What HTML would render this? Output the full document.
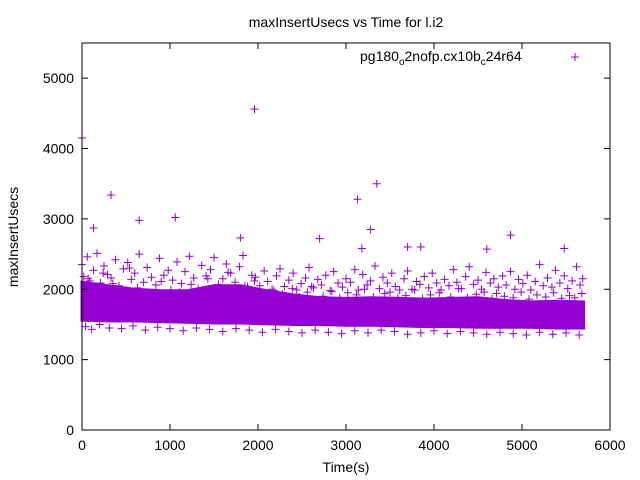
<!DOCTYPE html>
<html><head><meta charset="utf-8"><style>
body{margin:0;background:#fff;}
svg{display:block;font-family:"Liberation Sans",sans-serif;}
</style></head><body>
<svg id="chart" width="640" height="480">
<rect width="640" height="480" fill="#fff"/>
<text x="346" y="27" text-anchor="middle" font-size="14">maxInsertUsecs vs Time for l.i2</text>
<g id="marks"></g>
<rect x="82" y="43" width="528" height="387" fill="none" stroke="#000" stroke-width="1"/>
<g id="axes"></g>
<text x="346" y="472" text-anchor="middle" font-size="14">Time(s)</text>
<text transform="translate(18,237) rotate(-90)" text-anchor="middle" font-size="14">maxInsertUsecs</text>
<g>
<text x="360" y="61" font-size="14">pg180<tspan font-size="10" dy="4">o</tspan><tspan dy="-4">2nofp.cx10b</tspan><tspan font-size="10" dy="4">c</tspan><tspan dy="-4">24r64</tspan></text>
<path d="M571 57h8M575 53v8" stroke="#9400d3" stroke-width="1"/>
</g>
</svg>
<script>
const xTicks=[0,1000,2000,3000,4000,5000,6000];
const yTicks=[0,1000,2000,3000,4000,5000];
const bandTimes=[0,300,600,900,1200,1500,1800,2100,2400,2700,3000,3300,3600,3900,4200,4500,4800,5100,5400,5700];
const bandLow=[1560,1550,1550,1540,1530,1520,1520,1510,1500,1500,1490,1490,1480,1470,1470,1460,1460,1460,1450,1450];
const bandHigh=[2100,2050,2000,1980,1980,2050,2050,1980,1920,1880,1870,1880,1870,1860,1870,1880,1840,1820,1830,1820];
const scatterT=[0,20,60,90,130,170,210,250,290,330,380,420,470,520,560,600,650,700,740,790,840,880,930,980,1030,1080,1130,1170,1220,1270,1320,1360,1410,1460,1500,1550,1600,1640,1690,1740,1790,1830,1880,1930,1970,2020,2070,2110,2160,2210,2250,2300,2350,2400,2440,2490,2540,2580,2630,2680,2720,2770,2820,2860,2910,2960,3000,3050,3100,3140,3190,3240,3280,3330,3380,3420,3470,3520,3560,3610,3660,3700,3750,3800,3840,3890,3940,3980,4030,4080,4120,4170,4220,4260,4310,4360,4400,4450,4500,4540,4590,4640,4680,4730,4780,4820,4870,4920,4960,5010,5060,5100,5150,5200,5240,5290,5340,5380,5430,5480,5520,5570,5620,5660,5690,40,110,200,310,450,580,720,860,1000,1150,1300,1450,1600,1750,1900,2050,2200,2350,2500,2650,2800,2950,3100,3250,3400,3550,3700,3850,4000,4150,4300,4450,4600,4750,4900,5050,5200,5350,5500,5650,70,150,240,350,440,540,630,760,900,1010,1110,1240,1340,1430,1530,1660,1720,1850,1960,2090,2180,2280,2390,2470,2560,2610,2740,2840,2930,3020,3120,3210,3310,3440,3500,3590,3680,3780,3870,3960,4060,4190,4280,4380,4480,4570,4660,4710,4800,4900,4990,5080,5170,5270,5360,5450,5540,5600,5680];
const scatterV=[2350,2180,2460,2120,2270,2510,2090,2330,2210,2160,2420,2050,2290,2380,2140,2230,2500,2100,2310,2170,2060,2440,2200,2270,2130,2390,2080,2250,2470,2160,2010,2340,2190,2280,2450,2070,2150,2360,2230,2100,2320,2480,2040,2200,2170,2050,2260,2110,2000,2190,2290,2040,2130,2230,1990,2080,2160,2310,2020,2140,2060,2200,1980,2250,2090,2030,2150,2100,2280,1990,2210,2060,2120,2330,2010,2170,2090,2230,2040,1990,2150,2260,2000,2110,2070,2180,2020,2230,2090,1990,2140,2050,2280,2100,2010,2180,2320,2070,2130,2000,2240,2090,2150,2030,2190,2060,2250,2000,2140,2080,2200,1990,2110,2350,2050,2160,2030,2270,2090,2190,2010,2120,2320,2060,2150,1470,1430,1500,1450,1440,1480,1420,1460,1440,1410,1450,1430,1400,1440,1420,1390,1430,1400,1380,1420,1390,1370,1410,1380,1420,1400,1360,1380,1410,1370,1400,1380,1360,1390,1370,1350,1390,1360,1380,1350,2150,1990,2230,2080,1950,2300,2020,1940,2110,1990,1960,2070,1920,2150,1990,2240,1960,2050,2120,1900,1980,1930,2010,1890,1960,2040,1900,1970,1880,1950,1920,2000,1890,1940,1960,1880,1910,1990,1870,1920,1950,1890,2010,1880,1930,1960,1870,1940,1900,1880,1960,1860,1920,1890,1950,1870,1910,1880,1940];
const outlierT=[0,130,330,650,1060,1800,1960,2700,3130,3180,3280,3350,3700,3850,4600,4870,5480];
const outlierV=[4150,2870,3340,2980,3020,2730,4560,2720,3280,2580,2850,3500,2600,2600,2570,2770,2580];

const NS='http://www.w3.org/2000/svg';
const X0=82,X1=610,Y0=430,YT=43;
const xs=t=>X0+t/6000*(X1-X0);
const ys=v=>Y0-v/5500*(Y0-YT);
const marks=document.getElementById('marks');
const axes=document.getElementById('axes');
const col='#9400d3';
function mk(tag,attrs,parent){const e=document.createElementNS(NS,tag);for(const k in attrs)e.setAttribute(k,attrs[k]);parent.appendChild(e);return e;}

let d='';
bandTimes.forEach((t,i)=>{d+=(i?'L':'M')+xs(t).toFixed(1)+' '+ys(bandHigh[i]).toFixed(1);});
for(let i=bandTimes.length-1;i>=0;i--)d+='L'+xs(bandTimes[i]).toFixed(1)+' '+ys(bandLow[i]).toFixed(1);
d+='Z';
const band=mk('path',{d:d,fill:col,stroke:col,'stroke-width':3},marks);



function plus(t,v,name){
  const x=xs(t),y=ys(v);
  const p=mk('path',{d:`M${x-4} ${y}h8M${x} ${y-4}v8`,stroke:col,'stroke-width':1,fill:'none'},marks);
  
  
}
scatterT.forEach((t,i)=>plus(t,scatterV[i],'data-point'));
outlierT.forEach((t,i)=>plus(t,outlierV[i],'outlier-point'));

xTicks.forEach(t=>{
  const x=xs(t);
  const l=mk('path',{d:`M${x} ${Y0}v-6M${x} ${YT}v6`,stroke:'#000'},axes);
  
  
  const tx=mk('text',{x:x,y:Y0+20,'text-anchor':'middle','font-size':14},axes);
  tx.textContent=t;
  
  
});
yTicks.forEach(v=>{
  const y=ys(v);
  const l=mk('path',{d:`M${X0} ${y}h6M${X1} ${y}h-6`,stroke:'#000'},axes);
  
  
  const tx=mk('text',{x:X0-8,y:y+5,'text-anchor':'end','font-size':14},axes);
  tx.textContent=v;
  
  
});
</script>
</body></html>
